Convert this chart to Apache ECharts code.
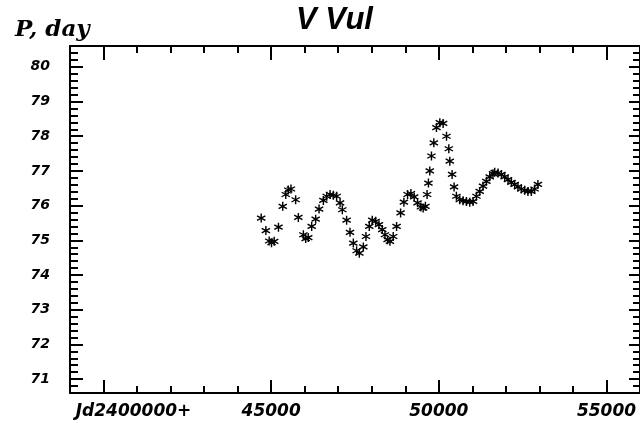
<!DOCTYPE html>
<html>
<head>
<meta charset="utf-8">
<script src="https://cdn.jsdelivr.net/npm/echarts@6/dist/echarts.min.js"></script>
<style>
  html, body { margin: 0; padding: 0; background: #fff; }
  #chart { width: 640px; height: 423px; }
</style>
</head>
<body>
<div id="chart"></div>
<script>
'use strict';

// period of V Vul
const arrJd = [
    44702, 44842, 44940, 45010, 45090, 45217, 45345, 45435, 45510, 45590,
    45730, 45810, 45960, 46030, 46105, 46208, 46327, 46428, 46557, 46657,
    46756, 46855, 46952, 47054, 47122, 47250, 47351, 47450, 47548, 47629,
    47748, 47827, 47926, 48015, 48116, 48214, 48313, 48393, 48473, 48542,
    48640, 48740, 48860, 48958, 49068, 49167, 49265, 49366, 49464, 49533,
    49600, 49650, 49690, 49730, 49780, 49851, 49929, 50030, 50128, 50229,
    50298, 50327, 50396, 50455, 50524, 50625, 50723, 50824, 50923, 51021,
    51122, 51220, 51318, 51419, 51518, 51616, 51667, 51765, 51866, 51964,
    52063, 52164, 52262, 52360, 52461, 52560, 52658, 52759, 52857, 52955
];
const arrPeriod = [
    75.64, 75.28, 74.98, 74.93, 74.97, 75.38, 75.98, 76.32, 76.45, 76.48,
    76.17, 75.66, 75.16, 75.05, 75.08, 75.40, 75.61, 75.90, 76.15, 76.27,
    76.32, 76.30, 76.27, 76.08, 75.88, 75.58, 75.23, 74.92, 74.70, 74.63,
    74.81, 75.11, 75.40, 75.58, 75.55, 75.45, 75.31, 75.16, 75.02, 74.97,
    75.11, 75.40, 75.79, 76.10, 76.32, 76.35, 76.25, 76.08, 75.96, 75.93,
    75.98, 76.32, 76.65, 77.00, 77.43, 77.81, 78.25, 78.39, 78.37, 78.00,
    77.64, 77.28, 76.90, 76.54, 76.27, 76.17, 76.14, 76.12, 76.10, 76.12,
    76.27, 76.41, 76.56, 76.70, 76.83, 76.92, 76.96, 76.94, 76.90, 76.83,
    76.75, 76.67, 76.61, 76.54, 76.48, 76.44, 76.41, 76.41, 76.48, 76.61
];

const arrTickX = [40000, 45000, 50000, 55000];
const arrTickY = [71, 72, 73, 74, 75, 76, 77, 78, 79, 80];

const strJdLabel = 'Jd2400000+';
const strTitle = 'V Vul';
const strYName = 'P, day';

// asterisk marker, three thick bars
const strStar = 'path://M-1.5,-10L1.5,-10L1.5,10L-1.5,10Z' +
    'M7.91,6.3L-9.41,-3.7L-7.91,-6.3L9.41,3.7Z' +
    'M9.41,-3.7L-7.91,6.3L-9.41,3.7L7.91,-6.3Z';

const fontLabel = {
    color: '#000',
    fontFamily: 'DejaVu Sans',
    fontWeight: 'bold',
    fontStyle: 'italic'
};

const lineBlack = { color: '#000', width: 2 };

const chart = echarts.init(document.getElementById('chart'), null, { renderer: 'canvas' });

const xBase = { type: 'value', min: 39000, max: 56000, splitLine: { show: false }, gridIndex: 0 };
const yBase = { type: 'value', min: 70.6, max: 80.6, splitLine: { show: false }, gridIndex: 0 };

const option = {
    backgroundColor: '#fff',
    animation: false,
    title: [{
        text: strTitle,
        left: 291,
        top: 0,
        textStyle: {
            color: '#000',
            fontFamily: 'Liberation Sans',
            fontWeight: 'bold',
            fontStyle: 'italic',
            fontSize: 31
        }
    }, {
        text: strYName,
        left: 10,
        top: 14,
        textStyle: {
            color: '#000',
            fontFamily: 'DejaVu Serif',
            fontWeight: 'bold',
            fontStyle: 'italic',
            fontSize: 23
        }
    }],
    grid: {
        left: 70,
        top: 46,
        width: 572,
        bottom: 30,
        containLabel: false
    },
    xAxis: [
        Object.assign({}, xBase, {
            position: 'bottom',
            axisLine: { show: true, lineStyle: lineBlack },
            axisTick: { show: true, inside: true, length: 13, customValues: arrTickX, lineStyle: lineBlack },
            axisLabel: Object.assign({}, fontLabel, {
                customValues: arrTickX,
                fontSize: 17,
                margin: 10,
                formatter: v => v === 40000 ? '{jd|' + strJdLabel + '}' : String(v),
                rich: {
                    jd: Object.assign({}, fontLabel, { fontSize: 17, padding: [0, 0, 0, 60] })
                }
            })
        }),
        Object.assign({}, xBase, {
            position: 'bottom',
            interval: 1000,
            axisLine: { show: false },
            axisTick: { show: true, inside: true, length: 7, lineStyle: lineBlack },
            axisLabel: { show: false }
        }),
        Object.assign({}, xBase, {
            position: 'top',
            axisLine: { show: true, lineStyle: lineBlack },
            axisTick: { show: true, inside: true, length: 14, customValues: arrTickX, lineStyle: lineBlack },
            axisLabel: { show: false }
        }),
        Object.assign({}, xBase, {
            position: 'top',
            interval: 1000,
            axisLine: { show: false },
            axisTick: { show: true, inside: true, length: 7, lineStyle: lineBlack },
            axisLabel: { show: false }
        })
    ],
    yAxis: [
        Object.assign({}, yBase, {
            position: 'left',
            axisLine: { show: true, lineStyle: lineBlack },
            axisTick: { show: true, inside: true, length: 13, customValues: arrTickY, lineStyle: lineBlack },
            axisLabel: Object.assign({}, fontLabel, {
                customValues: arrTickY,
                fontSize: 14,
                margin: 20
            })
        }),
        Object.assign({}, yBase, {
            position: 'left',
            interval: 0.2,
            axisLine: { show: false },
            axisTick: { show: true, inside: true, length: 8, lineStyle: lineBlack },
            axisLabel: { show: false }
        }),
        Object.assign({}, yBase, {
            position: 'right',
            axisLine: { show: true, lineStyle: lineBlack },
            axisTick: { show: true, inside: true, length: 11, customValues: arrTickY, lineStyle: lineBlack },
            axisLabel: { show: false }
        }),
        Object.assign({}, yBase, {
            position: 'right',
            interval: 0.2,
            axisLine: { show: false },
            axisTick: { show: true, inside: true, length: 7, lineStyle: lineBlack },
            axisLabel: { show: false }
        })
    ],
    series: [{
        type: 'scatter',
        xAxisIndex: 0,
        yAxisIndex: 0,
        symbol: strStar,
        symbolSize: 9,
        itemStyle: { color: '#000', opacity: 1 },
        emphasis: { disabled: true },
        data: arrJd.map((jd, i) => [jd, arrPeriod[i]])
    }]
};

chart.setOption(option);
</script>
</body>
</html>
